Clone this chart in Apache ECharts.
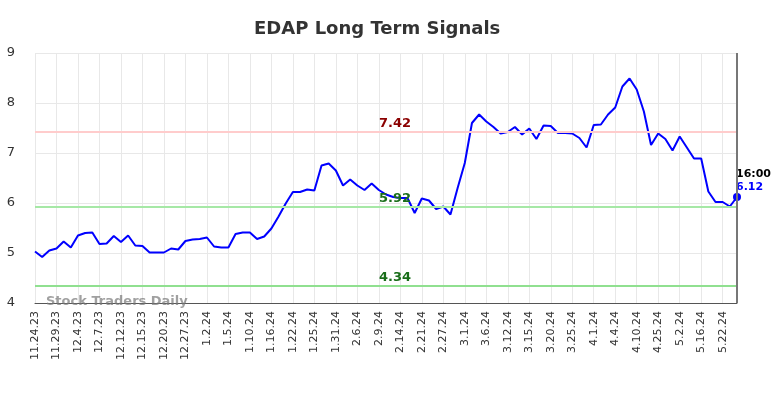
<!DOCTYPE html>
<html>
<head>
<meta charset="utf-8">
<script src="https://cdn.jsdelivr.net/npm/echarts@6/dist/echarts.min.js"></script>
<style>
  html, body { margin: 0; padding: 0; background: #fff; }
  #chart { width: 784px; height: 398px; }
</style>
</head>
<body>
<div id="chart"></div>
<script>
  // trading days (labels shown every 3rd)
  var dates = [
    '11.24.23','11.27.23','11.28.23','11.29.23','11.30.23','12.1.23','12.4.23','12.5.23','12.6.23','12.7.23',
    '12.8.23','12.11.23','12.12.23','12.13.23','12.14.23','12.15.23','12.18.23','12.19.23','12.20.23','12.21.23',
    '12.26.23','12.27.23','12.28.23','12.29.23','1.2.24','1.3.24','1.4.24','1.5.24','1.8.24','1.9.24',
    '1.10.24','1.11.24','1.12.24','1.16.24','1.17.24','1.19.24','1.22.24','1.23.24','1.24.24','1.25.24',
    '1.29.24','1.30.24','1.31.24','2.2.24','2.5.24','2.6.24','2.7.24','2.8.24','2.9.24','2.12.24',
    '2.13.24','2.14.24','2.16.24','2.20.24','2.21.24','2.22.24','2.26.24','2.27.24','2.28.24','2.29.24',
    '3.1.24','3.4.24','3.5.24','3.6.24','3.8.24','3.11.24','3.12.24','3.13.24','3.14.24','3.15.24',
    '3.18.24','3.19.24','3.20.24','3.21.24','3.22.24','3.25.24','3.27.24','3.28.24','4.1.24','4.2.24',
    '4.3.24','4.4.24','4.8.24','4.9.24','4.10.24','4.11.24','4.24.24','4.25.24','4.29.24','5.1.24',
    '5.2.24','5.3.24','5.15.24','5.16.24','5.17.24','5.20.24','5.22.24','5.23.24','5.24.24'
  ]
  var prices = [
    5.03, 4.92, 5.05, 5.09, 5.23, 5.11, 5.35, 5.40, 5.41, 5.18,
    5.19, 5.34, 5.22, 5.35, 5.15, 5.14, 5.01, 5.01, 5.01, 5.09,
    5.07, 5.24, 5.27, 5.28, 5.31, 5.13, 5.11, 5.11, 5.38, 5.41,
    5.41, 5.28, 5.33, 5.49, 5.73, 5.99, 6.22, 6.22, 6.27, 6.25,
    6.75, 6.79, 6.65, 6.35, 6.47, 6.35, 6.26, 6.39, 6.26, 6.17,
    6.12, 6.10, 6.10, 5.80, 6.09, 6.05, 5.88, 5.93, 5.77, 6.30,
    6.80, 7.60, 7.77, 7.63, 7.52, 7.39, 7.42, 7.52, 7.37, 7.49,
    7.28, 7.55, 7.54, 7.40, 7.40, 7.39, 7.30, 7.11, 7.56, 7.57,
    7.77, 7.91, 8.33, 8.49, 8.27, 7.83, 7.16, 7.39, 7.28, 7.05,
    7.33, 7.11, 6.89, 6.89, 6.23, 6.02, 6.02, 5.93, 6.12
  ]
  var resistance = 7.42
  var support = [5.92, 4.34]
  var lastTime = '16:00'

  var chart = echarts.init(document.getElementById('chart'))
  var lastIdx = prices.length - 1

  // only the last point gets a dot + label
  var seriesData = prices.map(function (v, i) {
    if (i !== lastIdx) return { value: v, symbol: 'none' }
    return {
      value: v,
      symbol: 'circle',
      symbolSize: 8,
      label: {
        show: true,
        position: [3, -25],
        align: 'left',
        formatter: '{t|' + lastTime + '}\n{v|' + v.toFixed(2) + '}',
        rich: {
          t: { color: '#000', fontWeight: 'bold', fontSize: 11, fontFamily: 'DejaVu Sans', lineHeight: 13 },
          v: { color: '#0000ff', fontWeight: 'bold', fontSize: 11, fontFamily: 'DejaVu Sans', lineHeight: 13 }
        }
      }
    }
  })

  function levelLine(val, lineColor, textColor) {
    return {
      yAxis: val,
      lineStyle: { color: lineColor, width: 2, type: 'solid' },
      label: {
        show: true,
        position: 'insideMiddleTop',
        formatter: val.toFixed(2),
        color: textColor,
        fontWeight: 'bold',
        fontSize: 13,
        fontFamily: 'DejaVu Sans',
        distance: 2,
        offset: [9, 0]
      }
    }
  }

  chart.setOption({
    animation: false,
    title: {
      text: 'EDAP Long Term Signals',
      left: 249,
      top: 15,
      textStyle: { fontSize: 18, fontWeight: 'bold', color: '#333', fontFamily: 'DejaVu Sans' }
    },
    grid: { left: 35, right: 47, top: 53, bottom: 95, containLabel: false },
    graphic: [{
      type: 'text',
      left: 46,
      top: 295,
      z: 10,
      style: {
        text: 'Stock Traders Daily',
        fill: 'rgba(120,120,120,0.7)',
        fontSize: 13,
        fontWeight: 'bold',
        fontFamily: 'DejaVu Sans'
      }
    }],
    xAxis: {
      type: 'category',
      data: dates,
      boundaryGap: false,
      axisLine: { lineStyle: { color: '#555', width: 1 } },
      axisTick: { show: false },
      axisLabel: {
        interval: 2,
        rotate: 90,
        margin: 8,
        color: '#333',
        fontSize: 11,
        fontFamily: 'DejaVu Sans'
      },
      splitLine: { show: true, interval: 2, lineStyle: { color: '#e8e8e8' } }
    },
    yAxis: {
      type: 'value',
      min: 4,
      max: 9,
      interval: 1,
      axisLine: { show: false },
      axisTick: { show: false },
      axisLabel: { color: '#333', fontSize: 13, margin: 20, fontFamily: 'DejaVu Sans' },
      splitLine: { lineStyle: { color: '#e8e8e8' } }
    },
    series: [{
      type: 'line',
      data: seriesData,
      showSymbol: true,
      showAllSymbol: true,
      clip: false,
      lineStyle: { color: '#0000ff', width: 2 },
      itemStyle: { color: '#0000ff' },
      markLine: {
        silent: true,
        symbol: 'none',
        data: [
          levelLine(resistance, '#ffcccc', '#8b0000'),
          levelLine(support[0], '#a6e8a6', '#1a6e1a'),
          levelLine(support[1], '#90e090', '#1a6e1a'),
          {
            xAxis: dates[lastIdx],
            lineStyle: { color: '#777', width: 2, type: 'solid' },
            label: { show: false }
          }
        ]
      }
    }]
  })
</script>
</body>
</html>
